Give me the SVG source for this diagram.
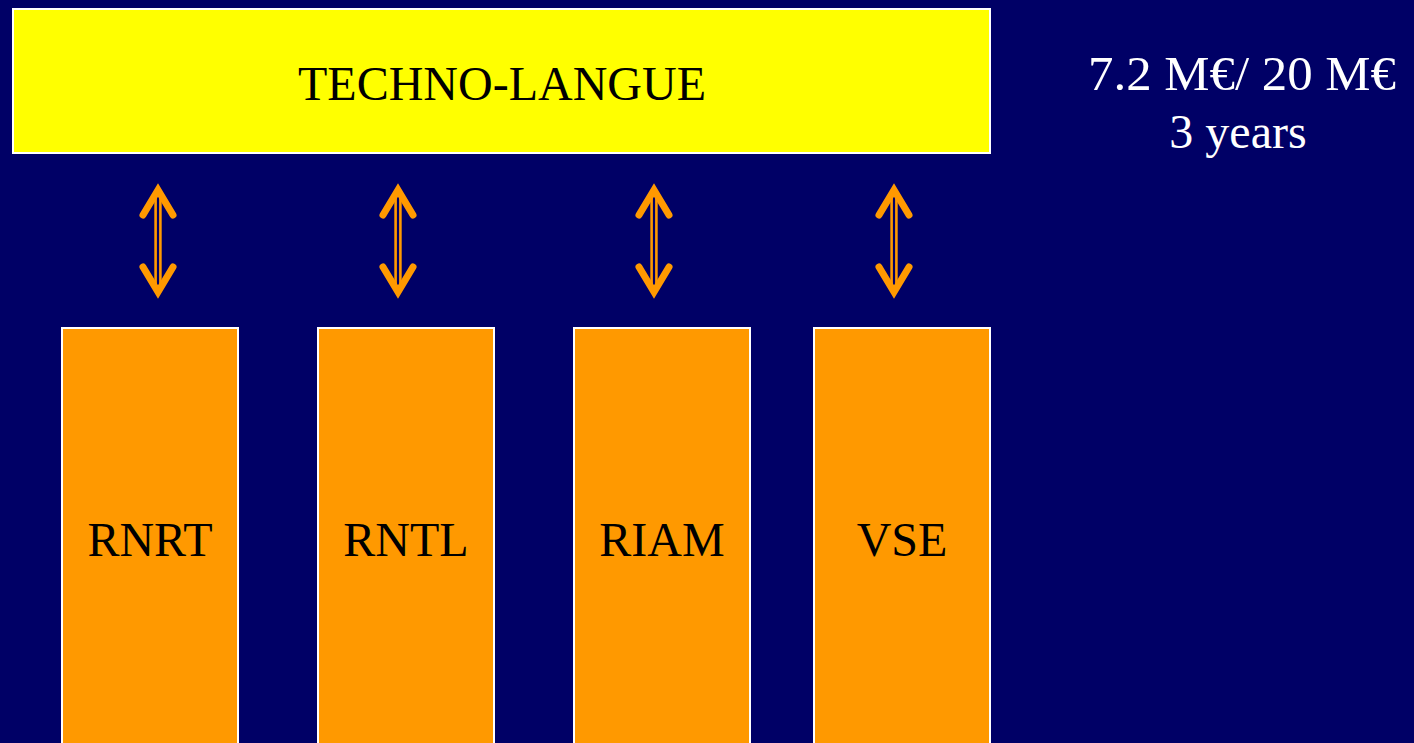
<svg xmlns="http://www.w3.org/2000/svg" width="1414" height="743" viewBox="0 0 1414 743">
<defs>
<style>
.t{font-family:"Liberation Serif","Times New Roman",serif;font-size:48px;text-anchor:middle;fill:#000}
.w{fill:#fff}
.box{stroke:#fff;stroke-width:2}
.sh{stroke:#ff9900;stroke-width:2.6;fill:none}
.hd{stroke:#ff9900;stroke-width:7;fill:none;stroke-linecap:round;stroke-linejoin:miter}
</style>
<g id="arrow">
<line class="sh" x1="-2.4" y1="-48" x2="-2.4" y2="48"/>
<line class="sh" x1="2.4" y1="-48" x2="2.4" y2="48"/>
<polyline class="hd" points="-15,-26 0,-51 15,-26"/>
<polyline class="hd" points="-15,26 0,51 15,26"/>
</g>
</defs>
<rect width="1414" height="743" fill="#000066"/>
<g id="techno-langue">
<rect class="box" x="13" y="9" width="977" height="144" fill="#ffff00"/>
<text class="t" x="502" y="100">TECHNO-LANGUE</text>
</g>
<g id="budget">
<text class="t w" x="1242" y="90" textLength="308" lengthAdjust="spacingAndGlyphs">7.2 M€/ 20 M€</text>
<text class="t w" x="1238" y="148">3 years</text>
</g>
<g id="rnrt">
<rect class="box" x="62" y="328" width="176" height="420" fill="#ff9900"/>
<text class="t" x="150" y="556">RNRT</text>
</g>
<g id="rntl">
<rect class="box" x="318" y="328" width="176" height="420" fill="#ff9900"/>
<text class="t" x="406" y="556">RNTL</text>
</g>
<g id="riam">
<rect class="box" x="574" y="328" width="176" height="420" fill="#ff9900"/>
<text class="t" x="662" y="556">RIAM</text>
</g>
<g id="vse">
<rect class="box" x="814" y="328" width="176" height="420" fill="#ff9900"/>
<text class="t" x="902" y="556">VSE</text>
</g>
<g id="connectors">
<use href="#arrow" x="158" y="241"/>
<use href="#arrow" x="398" y="241"/>
<use href="#arrow" x="654" y="241"/>
<use href="#arrow" x="894" y="241"/>
</g>
</svg>
